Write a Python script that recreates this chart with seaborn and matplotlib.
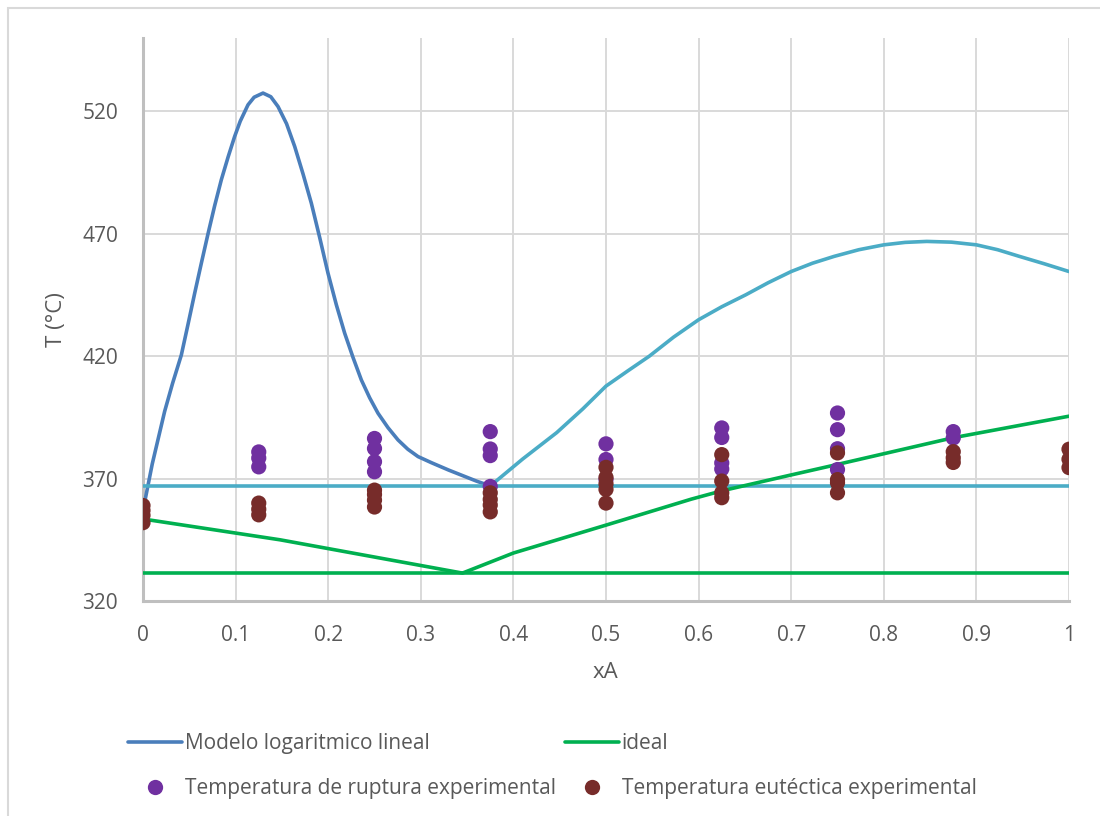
import matplotlib
matplotlib.use("Agg")
import pandas as pd
import matplotlib.pyplot as plt
import seaborn as sns
from matplotlib.lines import Line2D
from matplotlib.patches import Rectangle

# --- values ---
# logarithmic-linear model, left branch (xA 0 -> eutectic)
log_left_x = [0.0, 0.01, 0.0234, 0.032, 0.0414, 0.0486, 0.0558, 0.063, 0.0702, 0.0774,
              0.0846, 0.092, 0.099, 0.105, 0.1134, 0.12, 0.1296, 0.138, 0.1458, 0.155,
              0.1638, 0.1728, 0.1818, 0.1908, 0.1998, 0.2088, 0.2178, 0.2268, 0.2358, 0.2448,
              0.2538, 0.2646, 0.2754, 0.286, 0.297, 0.3115, 0.33, 0.346, 0.36, 0.375]
log_left_t = [357.0, 376.0, 397.5, 409.0, 420.5, 433.0, 445.7, 458.0, 470.0, 481.5,
              492.1, 501.5, 509.8, 516.0, 522.7, 525.8, 527.5, 526.0, 522.0, 515.0,
              505.7, 494.5, 482.5, 468.5, 453.9, 441.0, 429.4, 419.5, 410.3, 403.0,
              396.7, 390.8, 385.8, 382.0, 379.0, 376.5, 373.5, 371.1, 369.0, 367.0]
# logarithmic-linear model, right branch (eutectic -> xA 1)
log_right_x = [0.375, 0.41, 0.4468, 0.475, 0.5, 0.5235, 0.5467, 0.573, 0.6, 0.625,
               0.651, 0.675, 0.7, 0.723, 0.7465, 0.773, 0.8, 0.823, 0.8464, 0.873,
               0.9, 0.923, 0.9463, 0.973, 1.0]
log_right_t = [367.0, 378.0, 388.8, 398.5, 407.8, 414.0, 420.0, 427.8, 434.9, 440.2,
               445.1, 450.0, 454.6, 458.0, 460.8, 463.5, 465.5, 466.5, 466.9, 466.6,
               465.5, 463.5, 460.8, 457.8, 454.6]
log_eutectic_t = 367.0

# ideal model
ideal_x = [0.0, 0.148, 0.345, 0.4, 0.5, 0.592, 0.625, 0.7, 0.75, 0.875, 1.0]
ideal_t = [353.5, 345.0, 331.4, 339.6, 351.0, 361.6, 365.0, 371.5, 375.8, 386.7, 395.5]
ideal_eutectic_t = 331.4

# experimental points
rupture_x = [0.125] * 3 + [0.25] * 4 + [0.375] * 4 + [0.5] * 3 + [0.625] * 4 + [0.75] * 4 + [0.875] * 2
rupture_t = [380.9, 378.4, 374.8,
             386.4, 382.3, 376.9, 372.8,
             389.2, 382.1, 379.4, 366.8,
             384.2, 377.8, 369.6,
             390.7, 386.8, 376.4, 373.9,
             396.8, 390.0, 382.2, 373.7,
             389.2, 386.6]
eutectic_x = [0.0] * 4 + [0.125] * 3 + [0.25] * 4 + [0.375] * 4 + [0.5] * 5 + [0.625] * 4 + [0.75] * 4 + [0.875] * 3 + [1.0] * 3
eutectic_t = [359.0, 357.0, 355.0, 352.0,
              360.0, 357.5, 355.2,
              365.3, 363.5, 361.2, 358.4,
              364.2, 361.5, 359.2, 356.4,
              374.6, 370.5, 367.8, 365.6, 360.0,
              379.8, 369.0, 364.2, 362.2,
              380.5, 369.6, 368.3, 364.2,
              381.0, 378.5, 376.6,
              382.0, 377.9, 374.5]

x_ticks = [0, 0.1, 0.2, 0.3, 0.4, 0.5, 0.6, 0.7, 0.8, 0.9, 1]
x_tick_labels = ["0", "0.1", "0.2", "0.3", "0.4", "0.5", "0.6", "0.7", "0.8", "0.9", "1"]
y_ticks = [320, 370, 420, 470, 520]

BLUE = "#4a7ebb"
CYAN = "#4bacc6"
GREEN = "#00b050"
PURPLE = "#7030a0"
BROWN = "#772c2a"
GRID = "#d9d9d9"
TEXT = "#595959"

sns.set_style("white")
plt.rcParams["font.family"] = ["Open Sans", "DejaVu Sans"]

fig = plt.figure(figsize=(11, 8.16), dpi=100)
ax = fig.add_axes([143 / 1100, 1 - 601 / 816, (1069 - 143) / 1100, (601 - 38) / 816])

# chart border
fig.patches.append(Rectangle((8 / 1100, -0.1), 1.2, 1 - 8 / 816 + 0.1, transform=fig.transFigure,
                             fill=False, edgecolor="#d9d9d9", lw=1.5))

lw = 2.6
sns.lineplot(x=log_left_x, y=log_left_t, ax=ax, color=BLUE, lw=lw, sort=False, zorder=3)
sns.lineplot(x=log_right_x, y=log_right_t, ax=ax, color=CYAN, lw=lw, sort=False, zorder=3)
ax.axhline(log_eutectic_t, color=CYAN, lw=lw, zorder=3)
sns.lineplot(x=ideal_x, y=ideal_t, ax=ax, color=GREEN, lw=lw, sort=False, zorder=3)
ax.axhline(ideal_eutectic_t, color=GREEN, lw=lw, zorder=3)

sns.scatterplot(x=rupture_x, y=rupture_t, ax=ax, color=PURPLE, s=120, edgecolor="none", zorder=4)
sns.scatterplot(x=eutectic_x, y=eutectic_t, ax=ax, color=BROWN, s=120, edgecolor="none", zorder=5)

ax.set_xlim(0, 1)
ax.set_ylim(320, 550)
ax.set_xticks(x_ticks)
ax.set_xticklabels(x_tick_labels)
ax.set_yticks(y_ticks)
ax.grid(True, color=GRID, lw=1.4, zorder=0)
ax.set_axisbelow(True)
ax.tick_params(length=0, labelsize=15, colors=TEXT)
ax.tick_params(axis="x", pad=17)
ax.tick_params(axis="y", pad=18)
for side in ["top", "right"]:
    ax.spines[side].set_visible(False)
for side in ["left", "bottom"]:
    ax.spines[side].set_color("#bfbfbf")
    ax.spines[side].set_linewidth(2.2)

ax.set_xlabel("xA", fontsize=16, color=TEXT)
ax.set_ylabel("T (°C)", fontsize=16, color=TEXT)
ax.xaxis.set_label_coords(0.499, -0.108)
ax.yaxis.set_label_coords(-0.082, 0.5)

handles = [
    Line2D([], [], color=BLUE, lw=lw),
    Line2D([], [], color=PURPLE, marker="o", ls="none", markersize=11, markeredgewidth=0),
    Line2D([], [], color=GREEN, lw=lw),
    Line2D([], [], color=BROWN, marker="o", ls="none", markersize=11, markeredgewidth=0),
]
labels = ["Modelo logaritmico lineal", "Temperatura de ruptura experimental",
          "ideal", "Temperatura eutéctica experimental"]
leg = fig.legend(handles, labels, ncol=2, loc="upper left",
                 bbox_to_anchor=(128 / 1100, 1 - 733 / 816), frameon=False,
                 fontsize=15, handlelength=2.6, handletextpad=0.12, columnspacing=0.45,
                 labelspacing=1.15, borderpad=0, borderaxespad=0)
for t in leg.get_texts():
    t.set_color(TEXT)

fig.savefig("out.png", dpi=100)
